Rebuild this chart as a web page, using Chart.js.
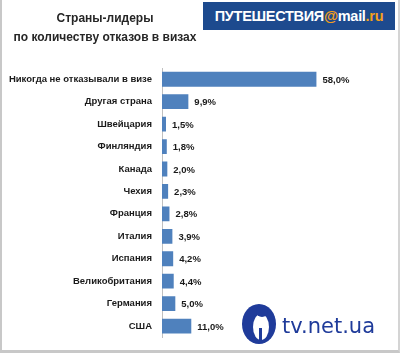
<!DOCTYPE html>
<html><head><meta charset="utf-8">
<script src="https://cdn.jsdelivr.net/npm/chart.js@4/dist/chart.umd.min.js"></script>
<style>
html,body{margin:0;padding:0;background:#fff;}
#wrap{position:relative;width:400px;height:353px;overflow:hidden;}
#frame{position:absolute;left:0;top:0;width:396px;height:350px;border-left:2px solid #c8c8c8;border-right:2px solid #d4d4d4;border-bottom:3px solid #c8c8c8;pointer-events:none;}
#title{position:absolute;left:0;top:9px;width:210px;text-align:center;font:bold 12px "Liberation Sans",Arial,sans-serif;color:#262626;line-height:19px;}
#logo{position:absolute;left:203px;top:2px;width:192px;height:28px;background:#1d4a8e;color:#fff;font:bold 14.5px "Liberation Sans",Arial,sans-serif;line-height:28px;text-align:center;letter-spacing:-0.3px;}
#logo .o{color:#f5a01a;}
canvas{position:absolute;left:0;top:0;}
</style></head>
<body><div id="wrap">
<canvas id="c" width="400" height="353"></canvas>
<div id="title">Страны-лидеры<br>по количеству отказов в визах</div>
<div id="logo">ПУТЕШЕСТВИЯ<span class="o">@</span>mail<span class="o">.ru</span></div>
<div id="frame"></div>
</div>
<script>
const categories = ["Никогда не отказывали в визе","Другая страна","Швейцария","Финляндия","Канада","Чехия","Франция","Италия","Испания","Великобритания","Германия","США"];
const values = [58.0, 9.9, 1.5, 1.8, 2.0, 2.3, 2.8, 3.9, 4.2, 4.4, 5.0, 11.0];
const valueLabels = ["58,0%","9,9%","1,5%","1,8%","2,0%","2,3%","2,8%","3,9%","4,2%","4,4%","5,0%","11,0%"];
const watermarkText = "tv.net.ua";

const labelPlugin = {
  id: 'valLabels',
  afterDatasetsDraw(chart) {
    const ctx = chart.ctx;
    const meta = chart.getDatasetMeta(0);
    ctx.save();
    ctx.font = 'bold 9.5px "Liberation Sans", Arial, sans-serif';
    ctx.fillStyle = '#1a1a1a';
    ctx.textBaseline = 'middle';
    ctx.textAlign = 'left';
    meta.data.forEach((bar, i) => {
      ctx.fillText(valueLabels[i], bar.x + 6, bar.y + 1);
    });
    ctx.restore();
  },
  afterDraw(chart) {
    const ctx = chart.ctx;
    ctx.save();
    const cx = 259, cy = 324;
    ctx.fillStyle = '#1f3b9a';
    ctx.beginPath();
    ctx.ellipse(cx, cy, 17, 20, 0, 0, Math.PI * 2);
    ctx.fill();
    ctx.fillStyle = '#ffffff';
    ctx.beginPath();
    ctx.ellipse(cx + 2, cy + 3, 8, 13, 0, 0, Math.PI * 2);
    ctx.fill();
    ctx.fillStyle = '#1f3b9a';
    ctx.beginPath();
    ctx.arc(cx + 3, cy - 13, 6, 0, Math.PI * 2);
    ctx.fill();
    ctx.fillRect(cx, cy + 4, 3, 12);
    ctx.font = '21px "DejaVu Sans", Verdana, sans-serif';
    ctx.textBaseline = 'alphabetic';
    ctx.fillText(watermarkText, 282, 333);
    ctx.restore();
  }
};

new Chart(document.getElementById('c'), {
  type: 'bar',
  data: {
    labels: categories,
    datasets: [{
      data: values,
      backgroundColor: '#4f81bd',
      barPercentage: 0.66,
      categoryPercentage: 1.0
    }]
  },
  options: {
    indexAxis: 'y',
    responsive: false,
    animation: false,
    layout: { padding: { top: 68, bottom: 11, left: 0, right: 25 } },
    plugins: { legend: { display: false }, tooltip: { enabled: false } },
    scales: {
      x: { display: false, min: 0, max: 80 },
      y: {
        afterFit(scale) { scale.width = 162; },
        grid: { display: false, drawTicks: false },
        border: { display: true, color: '#c0c0c0', width: 1 },
        ticks: {
          padding: 10,
          color: '#1a1a1a',
          font: { family: '"Liberation Sans", Arial, sans-serif', size: 9.5, weight: 'bold' }
        }
      }
    }
  },
  plugins: [labelPlugin]
});
</script>
</body></html>
